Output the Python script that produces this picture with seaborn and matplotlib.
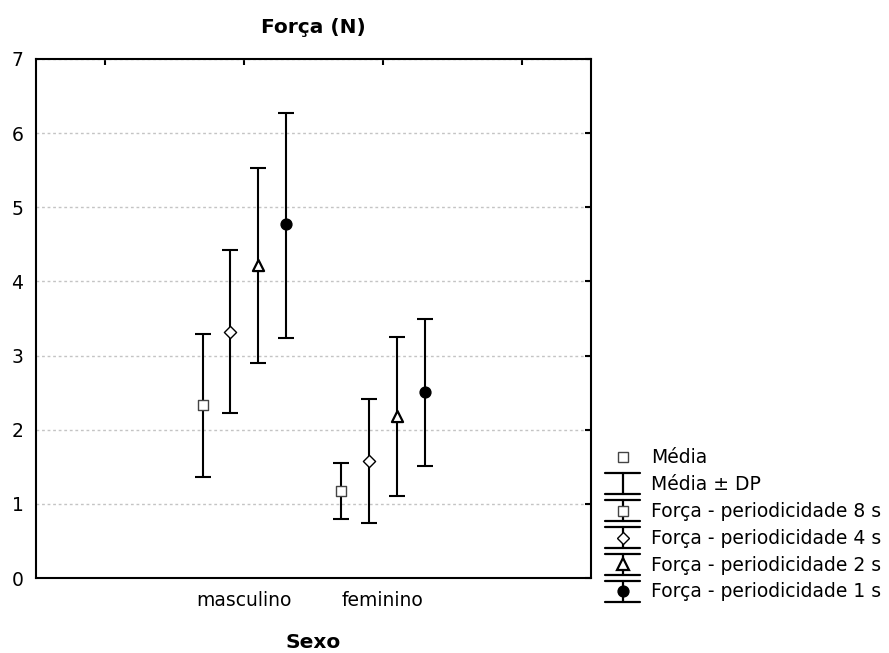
import numpy as np
import pandas as pd
import matplotlib
matplotlib.use("Agg")
import matplotlib.pyplot as plt
import seaborn as sns
from matplotlib.lines import Line2D
from matplotlib.legend_handler import HandlerBase

# ---------------- data ----------------
groups = ["masculino", "feminino"]
series = ["Força - periodicidade 8 s", "Força - periodicidade 4 s",
          "Força - periodicidade 2 s", "Força - periodicidade 1 s"]
mean_masc = [2.34, 3.32, 4.22, 4.78]
upper_masc = [3.29, 4.43, 5.53, 6.27]
lower_masc = [1.36, 2.22, 2.90, 3.24]
mean_fem = [1.17, 1.58, 2.19, 2.51]
upper_fem = [1.55, 2.41, 3.25, 3.49]
lower_fem = [0.80, 0.74, 1.11, 1.51]
xtick_labels = ["", "masculino", "feminino", ""]
ytick_values = [0, 1, 2, 3, 4, 5, 6, 7]

# ---------------- styling ----------------
group_pos = {"masculino": 1, "feminino": 2}
offsets = [-0.3, -0.1, 0.1, 0.3]
marker_styles = [
    dict(marker="s", ms=7.0, mfc="white", mec="#444444", mew=1.0),
    dict(marker="D", ms=6.2, mfc="white", mec="black", mew=1.0),
    dict(marker="^", ms=8.0, mfc="white", mec="black", mew=1.6),
    dict(marker="o", ms=7.8, mfc="black", mec="black", mew=1.0),
]

rows = []
for g, means, ups, los in [("masculino", mean_masc, upper_masc, lower_masc),
                           ("feminino", mean_fem, upper_fem, lower_fem)]:
    for i, s in enumerate(series):
        rows.append(dict(sexo=g, serie=s, media=means[i], sup=ups[i], inf=los[i],
                         x=group_pos[g] + offsets[i]))
df = pd.DataFrame(rows)

sns.set_theme(style="white")
plt.rcParams["font.family"] = ["DejaVu Sans"]
plt.rcParams["text.color"] = "black"
plt.rcParams["axes.labelcolor"] = "black"
plt.rcParams["xtick.color"] = "black"
plt.rcParams["ytick.color"] = "black"

fig = plt.figure(figsize=(8.89, 6.53), dpi=100)
ax = fig.add_axes([36 / 889, 1 - 578 / 653, (591 - 36) / 889, (578 - 59) / 653])

for i, s in enumerate(series):
    sub = df[df["serie"] == s]
    st = marker_styles[i]
    ax.errorbar(sub["x"], sub["media"],
                yerr=[sub["media"] - sub["inf"], sub["sup"] - sub["media"]],
                fmt="none", ecolor="black", elinewidth=1.5, capsize=5.9,
                capthick=1.5, zorder=3)
    sns.scatterplot(data=sub, x="x", y="media", marker=st["marker"],
                    s=st["ms"] ** 2, color=st["mfc"], edgecolor=st["mec"],
                    linewidth=st["mew"], ax=ax, zorder=4, legend=False)

ax.set_xlim(-0.5, 3.5)
ax.set_ylim(0, 7)
ax.set_xticks(range(len(xtick_labels)))
ax.set_xticklabels(xtick_labels)
ax.set_yticks(ytick_values)
ax.tick_params(direction="in", top=True, right=True, length=4, width=1.5,
               labelsize=13.5, colors="black")
ax.tick_params(axis="y", pad=9)
ax.tick_params(axis="x", pad=9)
ax.yaxis.grid(True, color="#c4c4c4", linestyle=(0, (2, 2)), linewidth=1)
ax.xaxis.grid(False)
ax.set_axisbelow(True)
for sp in ax.spines.values():
    sp.set_color("black")
    sp.set_linewidth(1.5)

ax.set_title("Força (N)", fontsize=14.5, fontweight="bold", pad=19, color="black")
ax.set_xlabel("Sexo", fontsize=14.5, fontweight="bold", labelpad=17, color="black")
ax.set_ylabel("")


class EBHandler(HandlerBase):
    def __init__(self, marker=None, ms=0, mfc="white", mec="black", mew=1.0,
                 bar=True, half=0.56):
        super().__init__()
        self.marker = marker
        self.ms = ms
        self.mfc = mfc
        self.mec = mec
        self.mew = mew
        self.bar = bar
        self.half = half

    def create_artists(self, legend, orig_handle, xdescent, ydescent, width,
                       height, fontsize, trans):
        cx = -xdescent + width / 2
        cy = -ydescent + height / 2
        arts = []
        if self.bar:
            h = self.half * fontsize
            x0, x1 = -xdescent, -xdescent + width
            arts.append(Line2D([cx, cx], [cy - h, cy + h], color="black", lw=1.6))
            arts.append(Line2D([x0, x1], [cy + h, cy + h], color="black", lw=1.6))
            arts.append(Line2D([x0, x1], [cy - h, cy - h], color="black", lw=1.6))
        if self.marker:
            arts.append(Line2D([cx], [cy], marker=self.marker, markersize=self.ms,
                               markerfacecolor=self.mfc, markeredgecolor=self.mec,
                               markeredgewidth=self.mew, linestyle="none"))
        for a in arts:
            a.set_transform(trans)
        return arts


handles = [Line2D([], []) for _ in range(6)]
labels = ["Média", "Média ± DP"] + series
hmap = {
    handles[0]: EBHandler(marker="s", ms=7.0, mfc="white", mec="#444444", bar=False),
    handles[1]: EBHandler(marker=None, bar=True),
}
for i in range(4):
    st = marker_styles[i]
    hmap[handles[i + 2]] = EBHandler(marker=st["marker"], ms=st["ms"],
                                     mfc=st["mfc"], mec=st["mec"], mew=st["mew"])

leg = ax.legend(handles, labels, handler_map=hmap, loc="upper left",
                bbox_to_anchor=(605 / 889, 1 - 448 / 653),
                bbox_transform=fig.transFigure, frameon=False, fontsize=13.5,
                handlelength=1.87, handleheight=1.12, handletextpad=0.6,
                labelspacing=0.39, borderpad=0, borderaxespad=0)
for t in leg.get_texts():
    t.set_color("black")

fig.savefig("out.png", dpi=100)
